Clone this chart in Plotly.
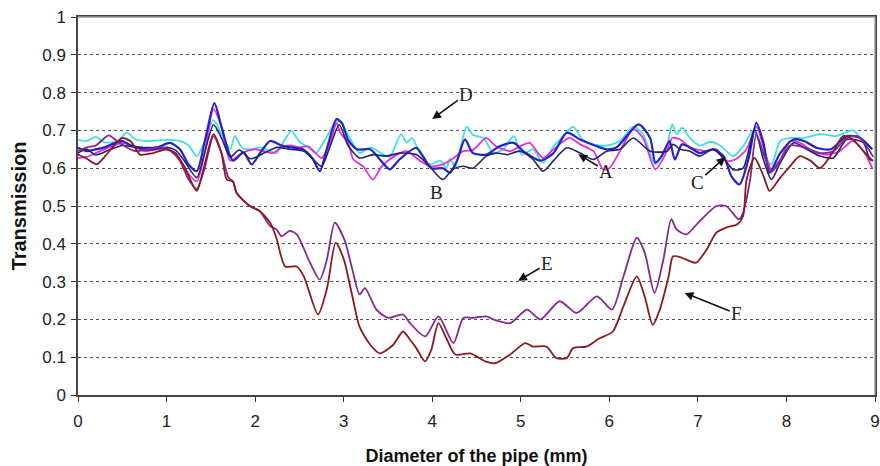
import plotly.graph_objects as go

# ---- data ----
x_D = [0.0,0.1,0.2,0.3,0.45,0.55,0.65,0.8,1.0,1.15,1.25,1.34,1.42,1.53,1.62,1.72,1.77,1.85,1.95,2.05,2.15,2.24,2.32,2.41,2.5,2.6,2.69,2.8,2.92,2.97,3.07,3.18,3.3,3.45,3.52,3.65,3.71,3.77,3.86,3.97,4.09,4.16,4.2,4.26,4.39,4.46,4.58,4.69,4.8,4.92,5.01,5.14,5.25,5.37,5.48,5.59,5.7,5.82,5.97,6.12,6.27,6.38,6.52,6.65,6.71,6.76,6.82,6.91,7.02,7.14,7.25,7.4,7.51,7.63,7.74,7.83,7.93,8.04,8.2,8.38,8.56,8.75,8.87,8.97]
y_D = [0.675,0.672,0.683,0.668,0.672,0.694,0.676,0.672,0.675,0.672,0.66,0.632,0.665,0.727,0.69,0.65,0.685,0.655,0.65,0.655,0.648,0.64,0.67,0.698,0.67,0.655,0.64,0.68,0.725,0.72,0.68,0.64,0.655,0.636,0.63,0.69,0.668,0.68,0.64,0.61,0.62,0.6,0.625,0.605,0.71,0.688,0.68,0.64,0.65,0.685,0.636,0.65,0.614,0.658,0.685,0.71,0.675,0.663,0.66,0.672,0.71,0.69,0.61,0.658,0.716,0.69,0.707,0.68,0.66,0.67,0.66,0.632,0.658,0.70,0.636,0.61,0.672,0.68,0.68,0.69,0.685,0.70,0.672,0.65]

x_C = [0.0,0.1,0.2,0.3,0.4,0.5,0.6,0.75,0.9,1.04,1.15,1.25,1.34,1.44,1.54,1.62,1.75,1.87,1.96,2.07,2.17,2.3,2.41,2.54,2.65,2.73,2.82,2.92,2.98,3.05,3.15,3.3,3.42,3.52,3.63,3.82,3.9,3.99,4.12,4.2,4.28,4.37,4.46,4.61,4.76,4.92,5.03,5.22,5.37,5.52,5.67,5.86,5.97,6.08,6.33,6.46,6.52,6.59,6.68,6.74,6.82,6.91,7.02,7.17,7.29,7.38,7.47,7.57,7.66,7.74,7.81,7.93,8.08,8.2,8.34,8.5,8.68,8.83,8.97]
y_C = [0.654,0.645,0.65,0.655,0.665,0.672,0.66,0.654,0.656,0.667,0.65,0.61,0.592,0.68,0.772,0.71,0.62,0.642,0.61,0.645,0.672,0.66,0.655,0.65,0.625,0.592,0.66,0.73,0.72,0.675,0.65,0.65,0.62,0.597,0.623,0.654,0.63,0.60,0.60,0.588,0.62,0.676,0.64,0.636,0.658,0.667,0.645,0.62,0.64,0.694,0.676,0.658,0.65,0.655,0.716,0.68,0.615,0.632,0.672,0.623,0.663,0.655,0.64,0.65,0.632,0.578,0.557,0.623,0.72,0.668,0.588,0.64,0.676,0.672,0.654,0.65,0.685,0.68,0.65]

x_A = [0.0,0.1,0.2,0.35,0.5,0.65,0.8,1.0,1.1,1.2,1.34,1.43,1.53,1.62,1.72,1.82,1.95,2.1,2.25,2.4,2.55,2.65,2.75,2.85,2.95,3.05,3.18,3.33,3.48,3.63,3.82,3.97,4.12,4.23,4.35,4.46,4.61,4.72,4.85,4.99,5.14,5.25,5.37,5.52,5.67,5.82,5.97,6.12,6.27,6.46,6.65,6.72,6.8,6.91,7.02,7.17,7.3,7.4,7.51,7.64,7.74,7.83,7.93,8.08,8.23,8.38,8.53,8.68,8.87,8.94,8.98]
y_A = [0.64,0.65,0.635,0.648,0.66,0.655,0.648,0.655,0.648,0.62,0.575,0.64,0.715,0.68,0.63,0.648,0.625,0.64,0.655,0.65,0.645,0.625,0.605,0.66,0.715,0.66,0.627,0.636,0.632,0.64,0.636,0.605,0.57,0.597,0.605,0.60,0.632,0.64,0.636,0.645,0.623,0.592,0.62,0.654,0.64,0.623,0.645,0.65,0.68,0.645,0.645,0.663,0.65,0.645,0.632,0.65,0.623,0.596,0.60,0.703,0.623,0.57,0.614,0.667,0.65,0.632,0.627,0.676,0.667,0.623,0.62]

x_B = [0.0,0.1,0.2,0.35,0.5,0.6,0.75,0.9,1.0,1.1,1.2,1.34,1.43,1.53,1.62,1.72,1.85,2.0,2.1,2.2,2.3,2.4,2.5,2.6,2.75,2.85,2.92,2.96,3.05,3.11,3.22,3.33,3.43,3.56,3.71,3.86,3.97,4.12,4.23,4.35,4.46,4.61,4.72,4.88,4.99,5.1,5.25,5.37,5.55,5.67,5.82,5.93,6.0,6.12,6.27,6.38,6.52,6.65,6.71,6.8,6.91,7.1,7.21,7.32,7.42,7.55,7.66,7.76,7.83,7.93,8.04,8.15,8.3,8.45,8.6,8.75,8.87,8.97]
y_B = [0.627,0.63,0.64,0.655,0.667,0.66,0.645,0.65,0.65,0.64,0.6,0.565,0.64,0.756,0.71,0.62,0.64,0.65,0.645,0.64,0.655,0.66,0.655,0.658,0.627,0.67,0.72,0.694,0.667,0.623,0.605,0.57,0.605,0.63,0.645,0.62,0.605,0.61,0.625,0.645,0.648,0.68,0.658,0.645,0.658,0.667,0.627,0.65,0.68,0.663,0.645,0.597,0.60,0.645,0.703,0.68,0.597,0.645,0.68,0.676,0.655,0.645,0.65,0.619,0.623,0.65,0.71,0.64,0.597,0.623,0.672,0.667,0.645,0.636,0.645,0.672,0.645,0.60]

x_E = [0.0,0.1,0.2,0.3,0.35,0.45,0.55,0.65,0.8,0.95,1.05,1.15,1.25,1.34,1.43,1.53,1.62,1.7,1.75,1.79,1.94,2.05,2.17,2.24,2.3,2.39,2.47,2.62,2.73,2.81,2.9,3.01,3.09,3.18,3.24,3.37,3.5,3.67,3.75,3.92,4.07,4.24,4.35,4.46,4.61,4.69,4.88,5.07,5.22,5.44,5.63,5.86,6.03,6.16,6.31,6.4,6.51,6.61,6.7,6.76,6.87,7.02,7.21,7.32,7.46,7.51,7.59,7.66,7.74,7.83,7.93,8.04,8.2,8.38,8.53,8.68,8.8,8.9,8.98]
y_E = [0.645,0.655,0.66,0.68,0.687,0.67,0.655,0.645,0.65,0.655,0.645,0.62,0.57,0.545,0.6,0.685,0.64,0.575,0.565,0.535,0.50,0.487,0.447,0.438,0.42,0.434,0.425,0.35,0.305,0.358,0.456,0.41,0.34,0.266,0.283,0.226,0.204,0.213,0.19,0.155,0.208,0.137,0.204,0.204,0.208,0.20,0.19,0.226,0.20,0.248,0.217,0.261,0.226,0.314,0.416,0.376,0.27,0.358,0.465,0.438,0.425,0.46,0.50,0.50,0.465,0.482,0.57,0.69,0.64,0.59,0.62,0.66,0.655,0.64,0.645,0.68,0.685,0.66,0.63]

x_F = [0.0,0.1,0.21,0.3,0.4,0.5,0.6,0.7,0.85,1.0,1.1,1.2,1.34,1.42,1.53,1.62,1.68,1.75,1.79,1.94,2.05,2.17,2.24,2.34,2.47,2.55,2.71,2.81,2.91,3.0,3.09,3.18,3.3,3.41,3.56,3.67,3.75,3.82,3.92,3.99,4.07,4.16,4.26,4.43,4.6,4.71,4.88,5.05,5.14,5.29,5.4,5.52,5.59,5.74,5.89,6.04,6.16,6.31,6.4,6.49,6.57,6.67,6.72,6.82,6.91,6.98,7.1,7.21,7.32,7.44,7.51,7.55,7.64,7.74,7.81,7.93,8.04,8.15,8.27,8.38,8.53,8.64,8.75,8.87,8.97]
y_F = [0.636,0.625,0.61,0.63,0.658,0.68,0.67,0.636,0.64,0.65,0.64,0.605,0.54,0.6,0.69,0.64,0.57,0.565,0.535,0.50,0.487,0.456,0.416,0.34,0.34,0.314,0.213,0.28,0.403,0.36,0.27,0.18,0.133,0.11,0.133,0.168,0.146,0.124,0.089,0.12,0.19,0.15,0.107,0.11,0.089,0.084,0.107,0.137,0.128,0.128,0.098,0.098,0.124,0.128,0.15,0.168,0.235,0.314,0.26,0.186,0.226,0.314,0.367,0.363,0.354,0.35,0.385,0.43,0.443,0.451,0.473,0.57,0.627,0.58,0.54,0.575,0.605,0.632,0.62,0.60,0.645,0.685,0.676,0.645,0.62]

x_ticks = [0, 1, 2, 3, 4, 5, 6, 7, 8, 9]
y_ticks = [0, 0.1, 0.2, 0.3, 0.4, 0.5, 0.6, 0.7, 0.8, 0.9, 1]
y_tick_text = ["0", "0.1", "0.2", "0.3", "0.4", "0.5", "0.6", "0.7", "0.8", "0.9", "1"]

labels = ["D", "A", "B", "C", "E", "F"]
label_x = [4.0, 5.65, 3.75, 7.31, 4.97, 6.85]
label_y = [0.73, 0.637, 0.615, 0.629, 0.302, 0.27]

series = [
    ("D", x_D, y_D, "#3ee0e6", 1.8),
    ("B", x_B, y_B, "#e62ee0", 1.8),
    ("C", x_C, y_C, "#2323c8", 2.2),
    ("A", x_A, y_A, "#22226e", 1.6),
    ("E", x_E, y_E, "#85288f", 1.8),
    ("F", x_F, y_F, "#8a1a1e", 1.8),
]

fig = go.Figure()
for name, xs, ys, col, w in series:
    fig.add_trace(go.Scatter(x=xs, y=ys, mode="lines", name=name,
                             line=dict(color=col, width=w, shape="spline", smoothing=0.7),
                             showlegend=False, hoverinfo="skip"))

# annotation arrows: text offset in pixels
offsets = {"D": (34, -25), "A": (28, 17), "B": (26, 30), "C": (-28, 25), "E": (29, -17), "F": (52, 21)}
for lab, lx, ly in zip(labels, label_x, label_y):
    ax, ay = offsets[lab]
    fig.add_annotation(x=lx, y=ly, xref="x", yref="y", text=lab, showarrow=True,
                       ax=ax, ay=ay, arrowhead=2, arrowsize=1.1, arrowwidth=1.6,
                       arrowcolor="#111111",
                       font=dict(family="Liberation Serif, Times New Roman, serif", size=19, color="#222222"))

# grey top and right frame lines (overlaying the mirrored axis lines)
fig.add_shape(type="line", xref="x domain", yref="y domain", x0=0, x1=1, y0=1, y1=1,
              line=dict(color="#9a9a9a", width=1.5))
fig.add_shape(type="line", xref="x domain", yref="y domain", x0=1, x1=1, y0=0, y1=1,
              line=dict(color="#9a9a9a", width=1.5))

fig.update_layout(
    width=880, height=466,
    margin=dict(l=78, r=5, t=17, b=71),
    paper_bgcolor="white", plot_bgcolor="white",
    font=dict(family="Liberation Sans, Arial, sans-serif", color="#222222"),
    xaxis=dict(range=[0, 9], tickvals=x_ticks, showgrid=False, zeroline=False, automargin=False,
               showline=True, mirror=True, linecolor="#444444", linewidth=1.5, ticklabeloverflow="allow",
               ticks="outside", ticklen=5, tickcolor="#333333", ticklabelstandoff=5,
               tickfont=dict(size=17, color="#222222"),
               title=dict(text="<b>Diameter of the pipe (mm)</b>", font=dict(size=18, color="#111111"), standoff=24)),
    yaxis=dict(range=[0, 1], tickvals=y_ticks, ticktext=y_tick_text, automargin=False,
               showgrid=True, gridcolor="#555555", gridwidth=1, griddash="dot", ticklabeloverflow="allow",
               zeroline=False, showline=True, mirror=True, linecolor="#444444", linewidth=1.5,
               ticks="outside", ticklen=5, tickcolor="#333333", ticklabelstandoff=2,
               tickfont=dict(size=17, color="#222222"),
               title=dict(text="<b>Transmission</b>", font=dict(size=20, color="#111111"), standoff=10)),
)

# remove the browser's default 8px body margin so the figure fills the window exactly
fig.write_html("out.html", config={"displayModeBar": False},
               post_script="document.body.style.margin='0px';document.body.style.overflow='hidden';")
